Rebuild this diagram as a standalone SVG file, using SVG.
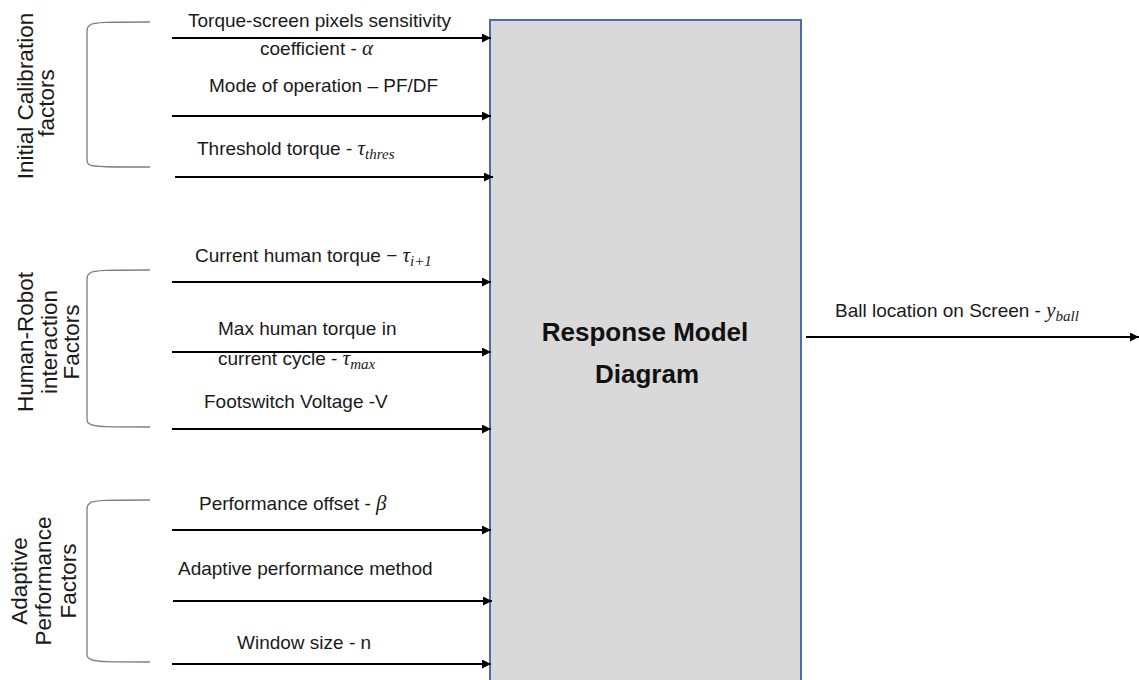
<svg xmlns="http://www.w3.org/2000/svg" width="1139" height="680" viewBox="0 0 1139 680">
  <defs>
    <marker id="arrow" viewBox="0 0 10 10" refX="10" refY="5" markerWidth="11" markerHeight="9" markerUnits="userSpaceOnUse" orient="auto">
      <path d="M0,0 L10,5 L0,10 z" fill="#000"/>
    </marker>
    <style>
      .lbl { font-family: "Liberation Sans", Arial, sans-serif; font-size: 19px; fill: #1a1a1a; }
      .grp { font-family: "Liberation Sans", Arial, sans-serif; font-size: 22.5px; fill: #1a1a1a; text-anchor: middle; }
      .math { font-family: "Liberation Serif", "Times New Roman", serif; font-style: italic; font-size: 21px; }
      .sub { font-size: 15px; }
      .title { font-family: "Liberation Sans", Arial, sans-serif; font-size: 26px; font-weight: bold; fill: #111; text-anchor: middle; }
      .wire { stroke: #000; stroke-width: 2; fill: none; marker-end: url(#arrow); }
      .brace { stroke: #7f7f7f; stroke-width: 1.3; fill: none; }
    </style>
  </defs>

  <!-- central block -->
  <g id="response-model">
    <rect x="490" y="20" width="311" height="680" fill="#d9d9d9" stroke="#4a6db0" stroke-width="2"/>
    <text class="title" x="645" y="341">Response Model</text>
    <text class="title" x="647" y="383">Diagram</text>
  </g>

  <!-- group brackets -->
  <g id="group-calibration">
    <path class="brace" d="M150,22 C110,22 93,22 90,25 Q87,27 87,31 L87,160 Q87,164 90,165 C93,167 110,167 150,167"/>
    <text class="grp" transform="translate(33,96) rotate(-90)">Initial Calibration</text>
    <text class="grp" transform="translate(54,103) rotate(-90)">factors</text>
  </g>
  <g id="group-interaction">
    <path class="brace" d="M150,270 C110,270 93,270 90,273 Q87,275 87,279 L87,419 Q87,423 90,424 C93,427 110,427 150,427"/>
    <text class="grp" transform="translate(33,342) rotate(-90)">Human-Robot</text>
    <text class="grp" transform="translate(57,342) rotate(-90)">interaction</text>
    <text class="grp" transform="translate(79,342) rotate(-90)">Factors</text>
  </g>
  <g id="group-adaptive">
    <path class="brace" d="M150,500 C110,500 93,500 90,503 Q87,505 87,509 L87,654 Q87,658 90,659 C93,662 110,662 150,662"/>
    <text class="grp" transform="translate(27,581) rotate(-90)">Adaptive</text>
    <text class="grp" transform="translate(51,581) rotate(-90)">Performance</text>
    <text class="grp" transform="translate(76,581) rotate(-90)">Factors</text>
  </g>

  <!-- input / output connectors -->
  <g id="connectors">
    <line class="wire" x1="172" y1="38" x2="491" y2="38"/>
    <line class="wire" x1="172" y1="116" x2="491" y2="116"/>
    <line class="wire" x1="175" y1="177" x2="493" y2="177"/>
    <line class="wire" x1="172" y1="282" x2="491" y2="282"/>
    <line class="wire" x1="172" y1="352" x2="491" y2="352"/>
    <line class="wire" x1="172" y1="429" x2="491" y2="429"/>
    <line class="wire" x1="172" y1="530" x2="491" y2="530"/>
    <line class="wire" x1="173" y1="601" x2="492" y2="601"/>
    <line class="wire" x1="172" y1="664" x2="491" y2="664"/>
    <line class="wire" x1="806" y1="337" x2="1139" y2="337"/>
  </g>

  <!-- connector labels -->
  <g id="labels">
    <text class="lbl" x="188" y="27">Torque-screen pixels sensitivity</text>
    <text class="lbl" x="260" y="55">coefficient - <tspan class="math">α</tspan></text>
    <text class="lbl" x="209" y="92">Mode of operation – PF/DF</text>
    <text class="lbl" x="197" y="155">Threshold torque - <tspan class="math">τ</tspan><tspan class="math sub" dy="4">thres</tspan></text>
    <text class="lbl" x="195" y="262">Current human torque − <tspan class="math">τ</tspan><tspan class="math sub" dy="4">i+1</tspan></text>
    <text class="lbl" x="218" y="335">Max human torque in</text>
    <text class="lbl" x="218" y="365">current cycle - <tspan class="math">τ</tspan><tspan class="math sub" dy="4">max</tspan></text>
    <text class="lbl" x="204" y="408">Footswitch Voltage -V</text>
    <text class="lbl" x="199" y="510">Performance offset - <tspan class="math">β</tspan></text>
    <text class="lbl" x="178" y="575">Adaptive performance method</text>
    <text class="lbl" x="237" y="649">Window size - n</text>
    <text class="lbl" x="835" y="317">Ball location on Screen - <tspan class="math">y</tspan><tspan class="math sub" dy="4">ball</tspan></text>
  </g>
</svg>
